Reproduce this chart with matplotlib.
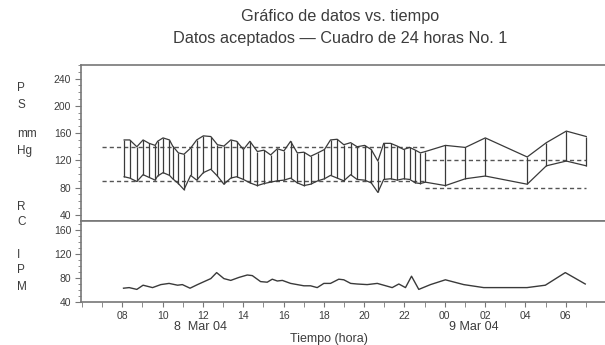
import matplotlib
matplotlib.use("Agg")
import matplotlib.pyplot as plt
from matplotlib.ticker import MultipleLocator

plt.rcParams['font.family'] = ['Liberation Sans', 'DejaVu Sans']

# blood pressure readings (hours counted from 00:00 on 8 Mar 04)
bp_hours = [8.09, 8.37, 8.72, 9.03, 9.33, 9.63, 9.75, 10.02, 10.34, 10.50,
            10.78, 11.06, 11.39, 11.69, 12.02, 12.39, 12.72, 13.04, 13.38, 13.67,
            14.01, 14.33, 14.70, 15.03, 15.36, 15.69, 16.02, 16.35, 16.68, 17.01,
            17.34, 17.70, 18.03, 18.33, 18.66, 18.99, 19.33, 19.65, 20.02, 20.35,
            20.68, 20.97, 21.31, 21.64, 21.96, 22.26, 22.54, 22.79, 23.04, 24.03,
            25.02, 26.01, 28.09, 29.04, 30.03, 31.02]
systolic = [150, 150, 140, 150, 145, 142, 148, 153, 150, 141,
            131, 129, 138, 150, 156, 155, 143, 141, 150, 148,
            136, 148, 133, 135, 128, 137, 134, 148, 131, 132,
            126, 131, 136, 150, 151, 143, 146, 140, 142, 136,
            119, 145, 145, 141, 136, 139, 135, 131, 133, 142,
            139, 153, 125, 146, 163, 155]
diastolic = [96, 94, 89, 99, 95, 91, 97, 102, 98, 93,
             86, 77, 98, 91, 102, 107, 97, 85, 94, 96,
             92, 87, 83, 86, 88, 90, 91, 94, 87, 83,
             85, 90, 93, 98, 94, 90, 99, 92, 91, 87,
             73, 92, 93, 91, 93, 92, 87, 86, 88, 83,
             93, 97, 85, 112, 119, 112]

# heart rate
hr_hours = [8.06, 8.34, 8.72, 9.03, 9.50, 9.91, 10.32, 10.74, 10.98, 11.36,
            11.73, 12.39, 12.68, 13.04, 13.38, 13.79, 14.20, 14.45, 14.86, 15.19,
            15.44, 15.69, 15.94, 16.35, 16.68, 17.01, 17.34, 17.67, 18.00, 18.33,
            18.74, 18.99, 19.33, 19.65, 20.15, 20.65, 20.97, 21.39, 21.72, 22.05,
            22.35, 22.71, 23.29, 24.03, 24.94, 25.93, 26.92, 28.08, 28.99, 29.98,
            30.97]
heart_rate = [63, 64, 61, 68, 64, 69, 71, 68, 69, 63,
              69, 79, 89, 79, 76, 81, 85, 84, 74, 73,
              78, 75, 76, 71, 69, 67, 67, 64, 71, 71,
              78, 77, 71, 70, 69, 71, 68, 64, 70, 64,
              83, 61, 69, 77, 69, 64, 64, 64, 68, 89,
              70]

# limits (day / night)
day_span = (7.0, 23.0)
day_limits = [140, 90]
night_span = (23.0, 31.0)
night_limits = [120, 80]

hour_ticks = list(range(8, 31, 2))
hour_labels = ["08", "10", "12", "14", "16", "18", "20", "22", "00", "02", "04", "06"]

line_col = "#3a3a3a"
txt_col = "#3c3c3c"
spine_col = "#777777"

fig = plt.figure(figsize=(6.05, 3.45), dpi=100)
ax_bp = fig.add_axes([81 / 605, 124 / 345, 524 / 605, 156 / 345])
ax_hr = fig.add_axes([81 / 605, 43 / 345, 524 / 605, 81 / 345])

for ax in (ax_bp, ax_hr):
    ax.set_xlim(5.95, 31.95)
    ax.spines["right"].set_visible(False)
    for s in ("left", "top", "bottom"):
        ax.spines[s].set_color(spine_col)
        ax.spines[s].set_linewidth(1.2)
    ax.tick_params(axis="y", which="major", direction="out", length=4,
                   color=spine_col, labelsize=7.5, labelcolor=txt_col, pad=3)
    ax.tick_params(axis="y", which="minor", direction="out", length=2.5, color=spine_col)
    ax.yaxis.set_minor_locator(MultipleLocator(10))

# blood pressure panel
ax_bp.set_ylim(31, 260)
ax_bp.set_yticks([40, 80, 120, 160, 200, 240])
ax_bp.set_xticks([])
ax_bp.hlines(day_limits, *day_span, colors="#555555", linestyles=(0, (3, 2.2)), linewidth=1.0)
ax_bp.hlines(night_limits, *night_span, colors="#555555", linestyles=(0, (3, 2.2)), linewidth=1.0)
ax_bp.vlines(bp_hours, diastolic, systolic, colors=line_col, linewidth=0.9)
ax_bp.plot(bp_hours, systolic, color=line_col, linewidth=0.9)
ax_bp.plot(bp_hours, diastolic, color=line_col, linewidth=0.9)

# heart rate panel
ax_hr.set_ylim(40, 175)
ax_hr.set_yticks([40, 80, 120, 160])
ax_hr.plot(hr_hours, heart_rate, color=line_col, linewidth=1.0)
ax_hr.set_xticks(hour_ticks)
ax_hr.set_xticklabels(hour_labels)
ax_hr.xaxis.set_minor_locator(MultipleLocator(1))
ax_hr.tick_params(axis="x", which="both", direction="out", length=3.5,
                  color=spine_col, labelsize=7.5, labelcolor=txt_col, pad=3)

# titles and labels
fig.text(340 / 605, 1 - 17 / 345, "Gráfico de datos vs. tiempo", ha="center", va="center",
         fontsize=11.7, color=txt_col)
fig.text(340 / 605, 1 - 38 / 345, "Datos aceptados — Cuadro de 24 horas No. 1", ha="center",
         va="center", fontsize=11.7, color=txt_col)

side_labels = [("P", 88), ("S", 105), ("mm", 134), ("Hg", 151), ("R", 207), ("C", 222),
               ("I", 255), ("P", 270), ("M", 287)]
for txt, ypix in side_labels:
    fig.text(17 / 605, 1 - ypix / 345, txt, ha="left", va="center", fontsize=8.5, color=txt_col)

fig.text(200 / 605, 1 - 327 / 345, "8  Mar 04", ha="center", va="center", fontsize=9, color=txt_col)
fig.text(474 / 605, 1 - 327 / 345, "9 Mar 04", ha="center", va="center", fontsize=9, color=txt_col)
fig.text(329 / 605, 1 - 339 / 345, "Tiempo (hora)", ha="center", va="center", fontsize=9, color=txt_col)

fig.savefig("out.png", dpi=100)
